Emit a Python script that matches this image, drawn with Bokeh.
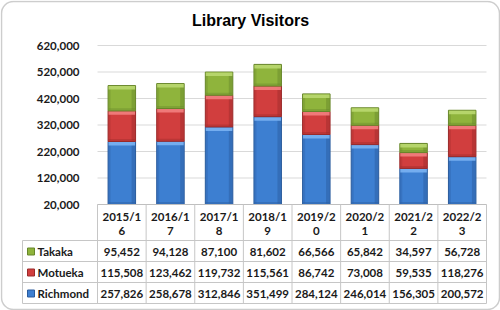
from bokeh.plotting import figure
from bokeh.models import Range1d, LinearAxis, FixedTicker, NumeralTickFormatter, BoxAnnotation
from bokeh.core.properties import value
from bokeh.embed import file_html
from bokeh.resources import INLINE
import numpy as np

# ---------------- data ----------------
title = "Library Visitors"
categories = ["2015/16", "2016/17", "2017/18", "2018/19", "2019/20", "2020/21", "2021/22", "2022/23"]
series_names = ["Takaka", "Motueka", "Richmond"]
richmond = [257826, 258678, 312846, 351499, 284124, 246014, 156305, 200572]
motueka = [115508, 123462, 119732, 115561, 86742, 73008, 59535, 118276]
takaka = [95452, 94128, 87100, 81602, 66566, 65842, 34597, 56728]
y_ticks = [20000, 120000, 220000, 320000, 420000, 520000, 620000]
y_min, y_max = 20000, 620000

# ---------------- layout ----------------
W, H = 500, 310
PX_L, PX_R = 97, 486      # plot area left/right (px)
PX_T, PX_B = 45, 204      # plot area top/bottom (px)
n = len(categories)
colw = (PX_R - PX_L) / n
ky = (y_max - y_min) / (PX_B - PX_T)   # data units per px

FONT = "Lato"
FS = "11.5px"
TXT = "#1a1a1a"

p = figure(width=W, height=H,
           x_range=Range1d(-PX_L / colw, (W - PX_L) / colw),
           y_range=Range1d(y_min - (H - PX_B) * ky, y_max + PX_T * ky),
           x_axis_type=None, y_axis_type=None,
           output_backend="svg", toolbar_location=None,
           min_border=0, outline_line_color=None,
           background_fill_color="white", border_fill_color="white")
p.xgrid.visible = False
p.ygrid.visible = False
p.extra_x_ranges = {"px": Range1d(0, W)}
p.extra_y_ranges = {"px": Range1d(H, 0)}

# y axis at the left edge of the plot area
ax = LinearAxis(fixed_location=0, ticker=FixedTicker(ticks=y_ticks),
                formatter=NumeralTickFormatter(format="0,0"))
ax.axis_line_color = None
ax.major_tick_line_color = None
ax.minor_tick_line_color = None
ax.major_label_standoff = 12
ax.major_label_text_font = FONT
ax.major_label_text_font_style = "bold"
ax.major_label_text_font_size = FS
ax.major_label_text_color = TXT
p.add_layout(ax, "left")

# gridlines
p.segment(x0=[0] * len(y_ticks), x1=[n] * len(y_ticks), y0=y_ticks, y1=y_ticks,
          line_color="#D9D9D9", line_width=1)

# ---------------- bars ----------------
x = np.arange(n) + 0.5
bw = 27.5 / colw
px = 1.0 / colw
styles = [
    (richmond, "#3D7FD1", "#7AB3F2", "#2A5B9C"),
    (motueka, "#D13E3E", "#F28080", "#9A2A2A"),
    (takaka, "#8FB43C", "#BAD870", "#67862A"),
]
cum = np.zeros(n)
for vals, mid, light, dark in styles:
    v = np.array(vals, dtype=float)
    bottom = np.maximum(cum, y_min)
    top = cum + v
    cum = top
    p.vbar(x=x, width=bw, bottom=bottom, top=top, fill_color=mid,
           line_color=dark, line_width=1)
    # right-side shading
    p.quad(left=x + bw / 2 - 4 * px, right=x + bw / 2 - 0.5 * px,
           bottom=bottom + ky, top=top - ky, fill_color=dark, fill_alpha=0.45, line_color=None)
    # left-side shading
    p.quad(left=x - bw / 2 + 0.5 * px, right=x - bw / 2 + 2.5 * px,
           bottom=bottom + ky, top=top - ky, fill_color=dark, fill_alpha=0.3, line_color=None)
    # bottom shading
    p.quad(left=x - bw / 2 + 0.5 * px, right=x + bw / 2 - 0.5 * px,
           bottom=bottom + 0.5 * ky, top=bottom + 2.5 * ky, fill_color=dark, fill_alpha=0.4, line_color=None)
    # top bevel highlight
    p.quad(left=x - bw / 2 + 0.5 * px, right=x + bw / 2 - 0.5 * px,
           bottom=top - 4 * ky, top=top - 0.5 * ky, fill_color=light, fill_alpha=0.9, line_color=None)

# ---------------- data table ----------------
ROW_T = [204, 240, 261, 282, 303]
LEG_L = 22
grid_c = "#C6C6C6"
# horizontal table lines
p.segment(x0=[LEG_L] * 4, x1=[PX_R] * 4, y0=ROW_T[1:], y1=ROW_T[1:],
          x_range_name="px", y_range_name="px", line_color=grid_c, line_width=1)
p.segment(x0=[PX_L], x1=[PX_R], y0=[ROW_T[0]], y1=[ROW_T[0]],
          x_range_name="px", y_range_name="px", line_color="#BFBFBF", line_width=1)
# vertical column lines
ks = list(range(n + 1))
p.segment(x0=ks, x1=ks, y0=[ROW_T[0]] * len(ks), y1=[ROW_T[-1]] * len(ks),
          y_range_name="px", line_color=grid_c, line_width=1)
p.segment(x0=[LEG_L], x1=[LEG_L], y0=[ROW_T[1]], y1=[ROW_T[-1]],
          x_range_name="px", y_range_name="px", line_color=grid_c, line_width=1)

text_kw = dict(text_font=value(FONT), text_font_style="bold", text_font_size=FS,
               text_color=TXT, text_baseline="middle")
# header (category labels wrapped)
p.text(x=x, y=[216] * n, text=[c[:-1] for c in categories], y_range_name="px",
       text_align="center", **text_kw)
p.text(x=x, y=[230.5] * n, text=[c[-1:] for c in categories], y_range_name="px",
       text_align="center", **text_kw)

rows = [(takaka, "#8FB43C", "#67862A"), (motueka, "#D13E3E", "#9A2A2A"), (richmond, "#3D7FD1", "#2A5B9C")]
for r, (vals, mid, dark) in enumerate(rows):
    yc = (ROW_T[r + 1] + ROW_T[r + 2]) / 2 + 0.5
    p.text(x=x, y=[yc] * n, text=[f"{v:,}" for v in vals], y_range_name="px",
           text_align="center", **text_kw)
    p.rect(x=[30.5], y=[yc], width=7, height=7, x_range_name="px", y_range_name="px",
           fill_color=mid, line_color=dark, line_width=1)
    p.text(x=[37], y=[yc], text=[series_names[r]], x_range_name="px", y_range_name="px",
           text_align="left", **text_kw)

# title
p.text(x=[W / 2], y=[19.5], text=[title], x_range_name="px", y_range_name="px",
       text_font=value("Liberation Sans"), text_font_style="bold", text_font_size="16px",
       text_color="black", text_align="center", text_baseline="middle")

# outer rounded border
p.add_layout(BoxAnnotation(left=1, right=W - 1, top=1, bottom=H - 1,
                           left_units="screen", right_units="screen",
                           top_units="screen", bottom_units="screen",
                           fill_alpha=0, line_color="#595959", line_width=1.5,
                           border_radius=12))

open("out.html", "w").write(file_html(p, INLINE))
